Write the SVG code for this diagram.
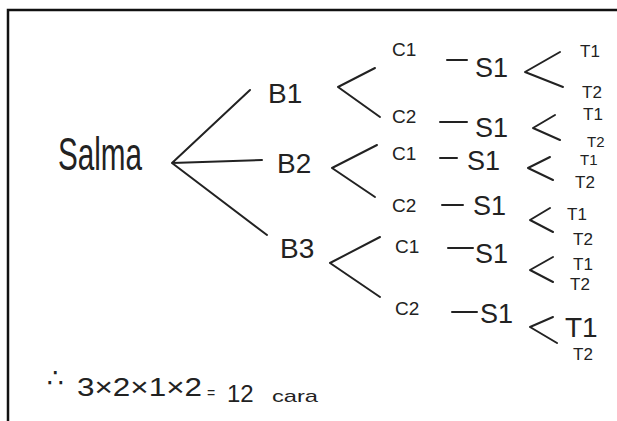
<svg xmlns="http://www.w3.org/2000/svg" width="617" height="421" viewBox="0 0 617 421">
<style>
text{font-family:"Liberation Sans","DejaVu Sans",sans-serif;fill:#222}
.b{font-size:28px}
.c{font-size:19px}
.s{font-size:27px}
.t{font-size:17px}
.ln{fill:none;stroke:#222;stroke-width:2;stroke-linecap:round;stroke-linejoin:round}
</style>
<rect width="617" height="421" fill="#fff"/>
<path d="M8,421 L8,10 L617,10" fill="none" stroke="#111" stroke-width="2.5"/>
<g id="connectors" class="ln">
<path d="M172,163 L250,90 M172,163 L262,160 M172,163 L267,235"/>
<path d="M375,68 L338,87 L380,117"/>
<path d="M377,145 L332,168 L375,197"/>
<path d="M380,237 L330,263 L380,297"/>
<path d="M447,60 L467,60 M440,122 L467,122 M440,158 L457,158 M442,205 L463,205 M448,248 L473,248 M452,312 L477,312"/>
<path d="M560,52 L525,72 L563,87"/>
<path d="M555,115 L533,128 L560,140"/>
<path d="M550,157 L528,168 L553,180"/>
<path d="M550,208 L530,220 L553,232"/>
<path d="M553,257 L530,270 L553,282"/>
<path d="M553,317 L530,327 L557,343"/>
</g>
<g id="salma"><text x="58" y="170" font-size="46" textLength="84" lengthAdjust="spacingAndGlyphs">Salma</text></g>
<g id="b1"><text class="b" x="268" y="103">B1</text></g>
<g id="b2"><text class="b" x="277" y="173">B2</text></g>
<g id="b3"><text class="b" x="280" y="258">B3</text></g>
<g id="c1-b1"><text class="c" x="392" y="56">C1</text></g>
<g id="c2-b1"><text class="c" x="392" y="123">C2</text></g>
<g id="c1-b2"><text class="c" x="392" y="160">C1</text></g>
<g id="c2-b2"><text class="c" x="392" y="212">C2</text></g>
<g id="c1-b3"><text class="c" x="395" y="253">C1</text></g>
<g id="c2-b3"><text class="c" x="395" y="315">C2</text></g>
<g id="s1-r1"><text class="s" x="475" y="77">S1</text></g>
<g id="s1-r2"><text class="s" x="475" y="137">S1</text></g>
<g id="s1-r3"><text class="s" x="467" y="170">S1</text></g>
<g id="s1-r4"><text class="s" x="473" y="215">S1</text></g>
<g id="s1-r5"><text class="s" x="475" y="263">S1</text></g>
<g id="s1-r6"><text class="s" x="480" y="323">S1</text></g>
<g id="t-r1"><text class="t" x="580" y="57">T1</text><text class="t" x="582" y="98">T2</text></g>
<g id="t-r2"><text class="t" x="583" y="120">T1</text><text x="587" y="147" font-size="15">T2</text></g>
<g id="t-r3"><text x="580" y="165" font-size="15">T1</text><text class="t" x="575" y="188">T2</text></g>
<g id="t-r4"><text class="t" x="567" y="220">T1</text><text class="t" x="573" y="245">T2</text></g>
<g id="t-r5"><text class="t" x="573" y="270">T1</text><text class="t" x="570" y="290">T2</text></g>
<g id="t-r6"><text x="565" y="337" font-size="28">T1</text><text class="t" x="573" y="360">T2</text></g>
<g id="result">
<text x="47" y="387" font-size="26">∴</text>
<text x="77" y="396" font-size="25" textLength="125" lengthAdjust="spacingAndGlyphs">3×2×1×2</text>
<text x="207" y="398" font-size="14">=</text>
<text x="227" y="402" font-size="24">12</text>
<text x="272" y="402" font-size="17" textLength="46" lengthAdjust="spacingAndGlyphs">cara</text>
</g>
</svg>
